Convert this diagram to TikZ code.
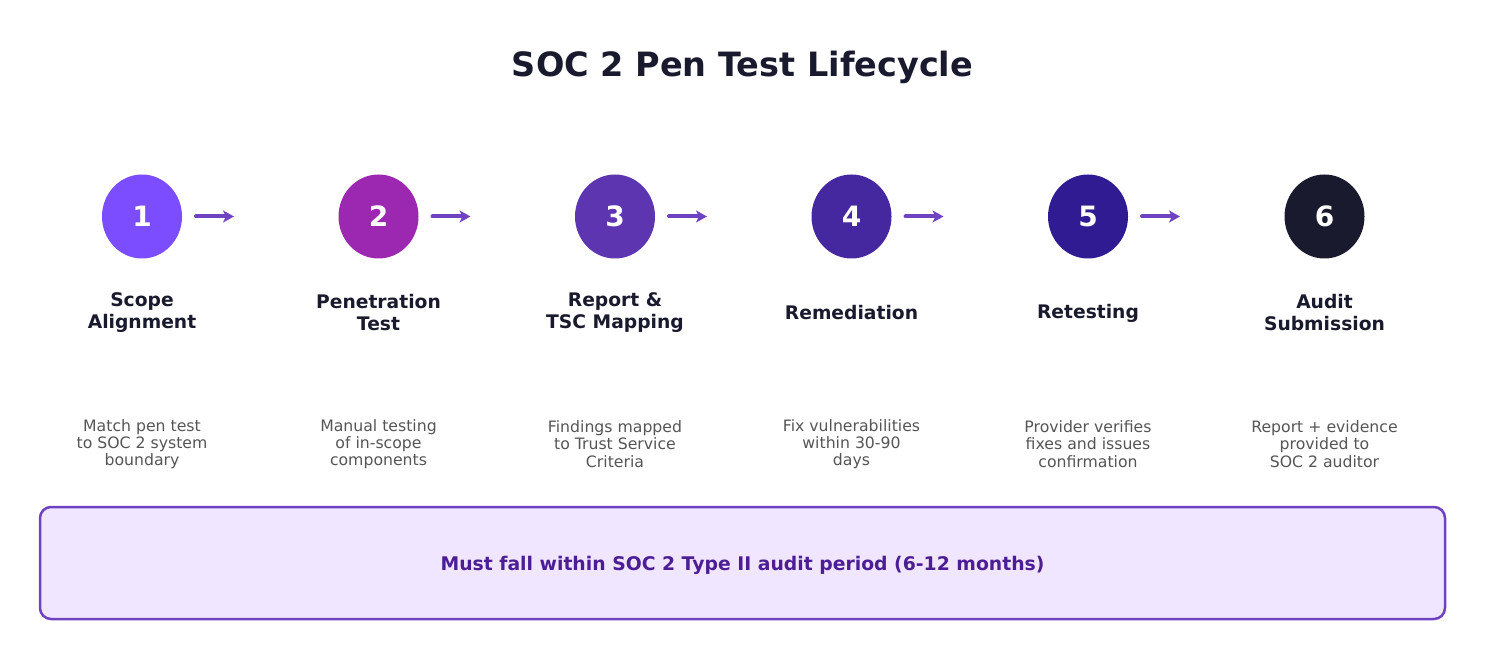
\documentclass[tikz,border=0pt]{standalone}
\usepackage{fontspec}
\setmainfont{DejaVu Sans}
\usepackage{xcolor}
\usetikzlibrary{
    arrows.meta,
    shapes.geometric,
    positioning
}
\definecolor{ink}{HTML}{1A1A2E}
\definecolor{muted}{HTML}{555555}
\definecolor{flowc}{HTML}{6F42C1}
\definecolor{cone}{HTML}{7C4DFF}
\definecolor{ctwo}{HTML}{9C27B0}
\definecolor{cthree}{HTML}{5E35B1}
\definecolor{cfour}{HTML}{4527A0}
\definecolor{cfive}{HTML}{311B92}
\definecolor{csix}{HTML}{1A1A2E}
\definecolor{bannerfill}{HTML}{F0E6FF}
\definecolor{bannertext}{HTML}{4C1D95}
\tikzset{
    stepdot/.style={ellipse, minimum width=80pt, minimum height=84pt, inner sep=0pt,
        text=white, font=\bfseries\fontsize{28}{32}\selectfont},
    steptitle/.style={align=center, text=ink, font=\bfseries\fontsize{18.7}{22}\selectfont},
    stepnote/.style={align=center, text=muted, font=\fontsize{15.7}{17.2}\selectfont},
    flow/.style={draw=flowc, line width=4pt, line cap=round,
        -{Stealth[length=11pt,width=12pt,inset=3pt]}}
}
\begin{document}
\begin{tikzpicture}[x=1pt, y=-1pt]
                        \useasboundingbox (0, 0) rectangle (1485, 660);
                        \node[text=ink, font=\bfseries\fontsize{33.5}{38}\selectfont] (title) at (742.5, 67.5) {SOC 2 Pen Test Lifecycle};

                        % circles
                        \node[stepdot, fill=cone] (c1) at (142, 216.5) {1};
                        \node[stepdot, fill=ctwo] (c2) at (378.5, 216.5) {2};
                        \node[stepdot, fill=cthree] (c3) at (615, 216.5) {3};
                        \node[stepdot, fill=cfour] (c4) at (851.5, 216.5) {4};
                        \node[stepdot, fill=cfive] (c5) at (1088, 216.5) {5};
                        \node[stepdot, fill=csix] (c6) at (1324.5, 216.5) {6};

                        % titles
                        \node[steptitle] (t1) at (142, 313) {Scope\\Alignment};
                        \node[steptitle] (t2) at (378.5, 313) {Penetration\\Test};
                        \node[steptitle] (t3) at (615, 313) {Report \&\\TSC Mapping};
                        \node[steptitle] (t4) at (851.5, 313) {Remediation};
                        \node[steptitle] (t5) at (1088, 313) {Retesting};
                        \node[steptitle] (t6) at (1324.5, 313) {Audit\\Submission};

                        % notes
                        \node[stepnote] (n1) at (142, 444) {Match pen test\\to SOC 2 system\\boundary};
                        \node[stepnote] (n2) at (378.5, 444) {Manual testing\\of in-scope\\components};
                        \node[stepnote] (n3) at (615, 444) {Findings mapped\\to Trust Service\\Criteria};
                        \node[stepnote] (n4) at (851.5, 444) {Fix vulnerabilities\\within 30-90\\days};
                        \node[stepnote] (n5) at (1088, 444) {Provider verifies\\fixes and issues\\confirmation};
                        \node[stepnote] (n6) at (1324.5, 444) {Report + evidence\\provided to\\SOC 2 auditor};

                        % arrow ends
                        \coordinate (a1) at (196, 216.5);
                        \coordinate (b1) at (234, 216.5);
                        \coordinate (a2) at (432.5, 216.5);
                        \coordinate (b2) at (470.5, 216.5);
                        \coordinate (a3) at (669, 216.5);
                        \coordinate (b3) at (707, 216.5);
                        \coordinate (a4) at (905.5, 216.5);
                        \coordinate (b4) at (943.5, 216.5);
                        \coordinate (a5) at (1142, 216.5);
                        \coordinate (b5) at (1180, 216.5);

                        \draw[flow] (a1) -- (b1);
                        \draw[flow] (a2) -- (b2);
                        \draw[flow] (a3) -- (b3);
                        \draw[flow] (a4) -- (b4);
                        \draw[flow] (a5) -- (b5);

                        % banner
                        \node[draw=flowc, line width=2.5pt, fill=bannerfill, rounded corners=11pt,
                            minimum width=1405pt, minimum height=112pt] (band) at (742.5, 563) {};
                        \node[text=bannertext, font=\bfseries\fontsize{18.8}{22}\selectfont] (bandtext) at (742.5, 565)
                            {Must fall within SOC 2 Type II audit period (6-12 months)};
                    \end{tikzpicture}
\end{document}
